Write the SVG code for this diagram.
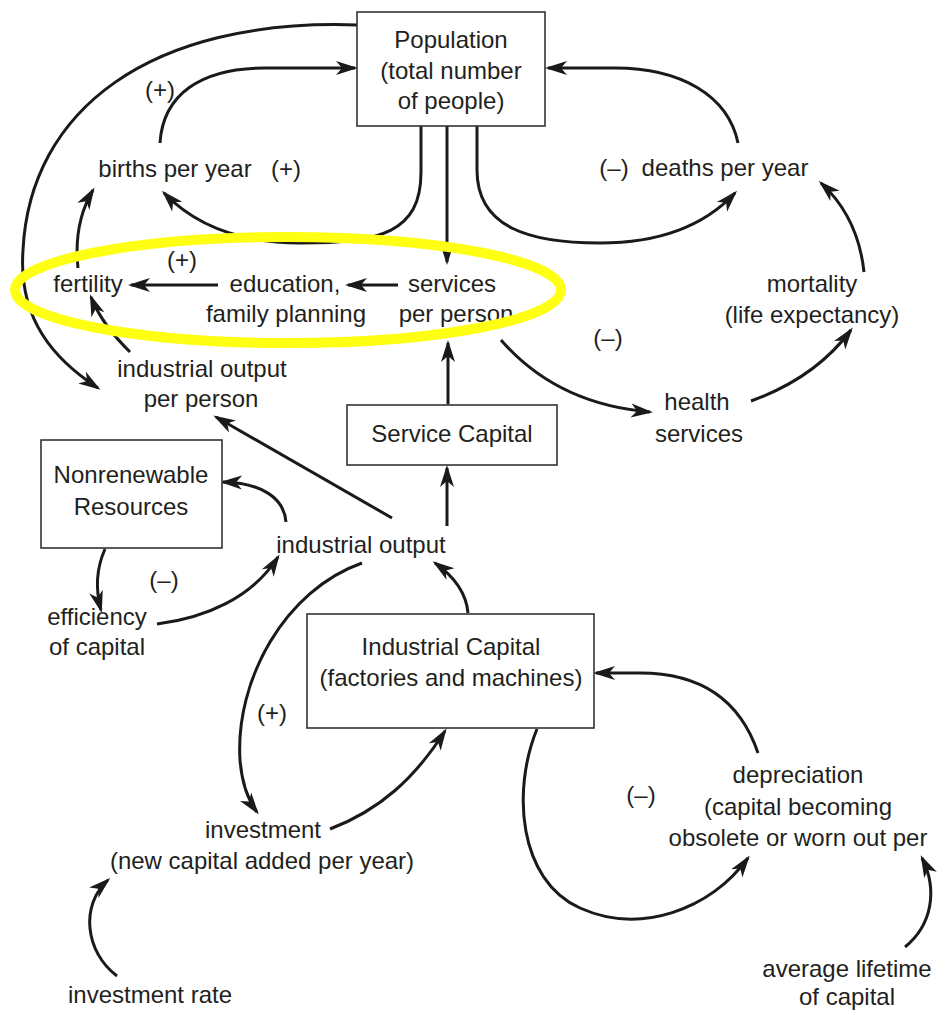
<svg xmlns="http://www.w3.org/2000/svg" width="951" height="1015" viewBox="0 0 951 1015">
<style>
text{font-family:"Liberation Sans",Arial,sans-serif;font-size:24px;fill:#231f20;text-anchor:middle}
.box{fill:#fff;stroke:#333;stroke-width:1.6}
.c{fill:none;stroke:#1a1a1a;stroke-width:3;marker-end:url(#ah)}
.n{fill:none;stroke:#1a1a1a;stroke-width:3}
</style>
<defs>
<marker id="ah" markerUnits="userSpaceOnUse" markerWidth="22" markerHeight="16" viewBox="0 0 22 16" refX="19" refY="8" orient="auto">
<path d="M0,1 L22,8 L0,15 L6,8 z" fill="#1a1a1a"/>
</marker>
</defs>
<rect width="951" height="1015" fill="#fff"/>
<g id="connectors">
<path class="c" d="M357,25 C150,18 30,110 23,250 C18,320 55,360 98,388"/>
<path class="c" d="M160,143 C163,95 200,68 265,68 L355,68"/>
<path class="c" d="M421,126 L421,172 C421,233 380,243 300,243 C240,243 195,225 164,193"/>
<path class="c" d="M447,126 L447,262"/>
<path class="c" d="M477,126 L477,170 C477,228 530,243 600,243 C660,243 705,225 735,193"/>
<path class="c" d="M738,143 C728,95 680,68 615,68 L548,68"/>
<path class="c" d="M864,272 C860,235 845,205 821,183"/>
<path class="c" d="M501,340 C540,385 590,407 650,412"/>
<path class="c" d="M751,401 C790,387 825,365 851,330"/>
<path class="c" d="M78,268 C75,240 80,212 93,190"/>
<path class="c" d="M218,285 L131,285"/>
<path class="c" d="M398,285 L348,285"/>
<path class="c" d="M130,352 C115,337 100,320 91,297"/>
<path class="c" d="M448,404 L448,343"/>
<path class="c" d="M392,518 L216,417"/>
<path class="c" d="M447,526 L447,468"/>
<path class="c" d="M286,522 C284,498 262,483 223,482"/>
<path class="c" d="M105,549 C97,567 95,588 101,610"/>
<path class="c" d="M157,624 C205,618 252,598 278,557"/>
<path class="c" d="M362,563 C285,590 235,680 240,760 C242,785 248,800 257,812"/>
<path class="c" d="M468,613 C466,590 452,575 435,563"/>
<path class="c" d="M330,829 C380,810 415,778 445,731"/>
<path class="c" d="M758,753 C740,700 700,673 640,673 L596,673"/>
<path class="c" d="M537,729 C512,790 518,880 580,908 C640,935 710,910 748,858"/>
<path class="c" d="M905,947 C932,925 938,890 922,858"/>
<path class="c" d="M117,976 C85,952 80,905 108,880"/>
</g>
<g id="population"><rect class="box" x="357" y="12" width="188" height="114"/>
<text x="451" y="48">Population</text><text x="451" y="79">(total number</text><text x="451" y="109">of people)</text></g>
<g id="births"><text x="175" y="177">births per year</text></g>
<g id="deaths"><text x="725" y="176">deaths per year</text></g>
<g id="fertility"><text x="88" y="292">fertility</text></g>
<g id="education"><text x="285" y="292">education,</text><text x="286" y="322">family planning</text></g>
<g id="services"><text x="452" y="292">services</text><text x="456" y="322">per person</text></g>
<g id="mortality"><text x="812" y="292">mortality</text><text x="812" y="323">(life expectancy)</text></g>
<g id="iopp"><text x="202" y="377">industrial output</text><text x="201" y="407">per person</text></g>
<g id="health"><text x="697" y="410">health</text><text x="699" y="442">services</text></g>
<g id="servicecapital"><rect class="box" x="347" y="405" width="210" height="60"/><text x="452" y="442">Service Capital</text></g>
<g id="nonrenewable"><rect class="box" x="41" y="440" width="181" height="108"/><text x="131" y="483">Nonrenewable</text><text x="131" y="515">Resources</text></g>
<g id="industrialoutput"><text x="361" y="553">industrial output</text></g>
<g id="efficiency"><text x="97" y="625">efficiency</text><text x="97" y="655">of capital</text></g>
<g id="industrialcapital"><rect class="box" x="307" y="614" width="287" height="114"/><text x="451" y="655">Industrial Capital</text><text x="451" y="686">(factories and machines)</text></g>
<g id="depreciation"><text x="798" y="783">depreciation</text><text x="798" y="815">(capital becoming</text><text x="798" y="846">obsolete or worn out per</text></g>
<g id="investment"><text x="263" y="838">investment</text><text x="262" y="869">(new capital added per year)</text></g>
<g id="investmentrate"><text x="150" y="1003">investment rate</text></g>
<g id="lifetime"><text x="847" y="977">average lifetime</text><text x="847" y="1005">of capital</text></g>
<g id="signs">
<text x="160" y="98">(+)</text><text x="286" y="177">(+)</text><text x="614" y="176">(–)</text>
<text x="182" y="268">(+)</text><text x="608" y="346">(–)</text><text x="164" y="588">(–)</text>
<text x="272" y="721">(+)</text><text x="641" y="803">(–)</text>
</g>
<g id="highlight"><ellipse cx="288" cy="290" rx="273" ry="53" fill="none" stroke="#ffff14" stroke-width="10"/></g>
</svg>
